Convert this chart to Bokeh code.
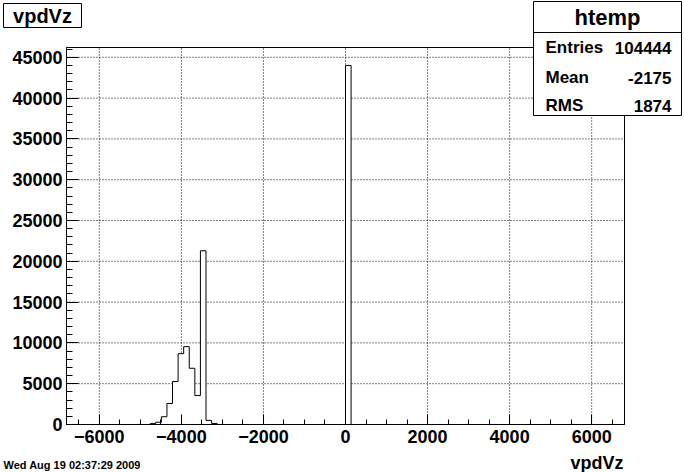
from bokeh.plotting import figure
from bokeh.models import Range1d, SingleIntervalTicker, Label, BoxAnnotation
from bokeh.embed import file_html
from bokeh.resources import INLINE
import numpy as np

# ---- data ----
x_min, x_max, n_bins = -6800, 6800, 100
bin_index = [15, 16, 17, 18, 19, 20, 21, 22, 23, 24, 25, 26, 50]
bin_count = [110, 280, 950, 2580, 5270, 8680, 9540, 6890, 3550, 21290, 500, 130, 44000]
y_max = 46200
x_tick_step = 2000
y_tick_step = 5000
title_text = "vpdVz"
x_title = "vpdVz"
stats_name = "htemp"
stats_labels = ["Entries", "Mean", "RMS"]
stats_values = ["104444", "-2175", "1874"]
date_text = "Wed Aug 19 02:37:29 2009"

FONT = "Liberation Sans"

# ---- layout: pixel geometry of the canvas ----
W, H = 684, 472
FL, FR, FT, FB = 66, 624, 47, 424   # histogram frame in canvas pixels

kx = (FR - FL) / (x_max - x_min)
ky = (FB - FT) / y_max
xr = Range1d(x_min - FL / kx, x_max + (W - FR) / kx)
yr = Range1d(-(H - FB) / ky, y_max + FT / ky)

p = figure(width=W, height=H, output_backend="svg", toolbar_location=None,
           x_range=xr, y_range=yr, min_border=0,
           background_fill_color="white", border_fill_color="white")
p.outline_line_color = None
p.xgrid.visible = False
p.ygrid.visible = False


def fx(X):
    return X


def fy(Y):
    return H - Y


# dotted grid at major ticks (inside the histogram frame only)
gx = np.arange(-6000, 6001, x_tick_step)
gy = np.arange(y_tick_step, y_max, y_tick_step)
p.segment(x0=gx, x1=gx, y0=[0] * len(gx), y1=[y_max] * len(gx),
          line_color="black", line_dash="1 2", line_width=1)
p.segment(x0=[x_min] * len(gy), x1=[x_max] * len(gy), y0=gy, y1=gy,
          line_color="black", line_dash="1 2", line_width=1)

# histogram
edges = np.linspace(x_min, x_max, n_bins + 1)
counts = np.zeros(n_bins)
for i, c in zip(bin_index, bin_count):
    counts[i] = c
xs = [edges[0]]
ys = [0]
for i in range(n_bins):
    xs += [edges[i], edges[i + 1]]
    ys += [counts[i], counts[i]]
xs.append(edges[-1])
ys.append(0)
p.varea(x=xs, y1=[0] * len(xs), y2=ys, fill_color="white")
p.line(x=xs, y=ys, line_color="black", line_width=1)

# frame outline
p.quad(left=[x_min], right=[x_max], bottom=[0], top=[y_max],
       fill_color=None, line_color="black", line_width=1)

# axes drawn at the frame edges
p.xaxis.fixed_location = 0
p.yaxis.fixed_location = x_min
p.xaxis.bounds = (x_min, x_max)
p.yaxis.bounds = (0, y_max)
p.xaxis.ticker = SingleIntervalTicker(interval=x_tick_step, num_minor_ticks=4)
p.yaxis.ticker = SingleIntervalTicker(interval=y_tick_step, num_minor_ticks=5)
for ax in (p.xaxis[0], p.yaxis[0]):
    ax.axis_line_color = "black"
    ax.major_tick_line_color = "black"
    ax.minor_tick_line_color = "black"
    ax.major_tick_out = 0
    ax.minor_tick_out = 0
    ax.major_label_text_font = FONT
    ax.major_label_text_font_style = "bold"
    ax.major_label_text_font_size = "18px"
    ax.major_label_text_color = "black"
p.xaxis.major_tick_in = 10
p.xaxis.minor_tick_in = 5
p.xaxis.major_label_standoff = 5
p.yaxis.major_tick_in = 12
p.yaxis.minor_tick_in = 6
p.yaxis.major_label_standoff = 4


def box(l, t, r, b, **kw):
    return BoxAnnotation(left=fx(l), right=fx(r), top=fy(t), bottom=fy(b),
                         left_units="screen", right_units="screen",
                         top_units="screen", bottom_units="screen",
                         level="overlay", **kw)


def label(X, Y, text, size, align="left"):
    return Label(x=fx(X), y=fy(Y), x_units="screen", y_units="screen",
                 text=text, text_font=FONT, text_font_style="bold",
                 text_font_size=size, text_align=align,
                 text_baseline="middle", text_color="black", level="overlay")


# title box
p.add_layout(box(3, 3, 81, 27, fill_color="white", fill_alpha=1,
                 line_color="black", line_alpha=1, line_width=1))
p.add_layout(label(42, 15.5, title_text, "20px", "center"))

# stats box
p.add_layout(box(533, 1, 681, 115, fill_color="white", fill_alpha=1,
                 line_color="black", line_alpha=1, line_width=1))
p.add_layout(box(533, 32, 681, 32, fill_alpha=0,
                 line_color="black", line_alpha=1, line_width=1))
p.add_layout(label(607, 16.5, stats_name, "22px", "center"))
row_y = [47, 77, 105]
for ly, lab, val in zip(row_y, stats_labels, stats_values):
    p.add_layout(label(545, ly, lab, "17px", "left"))
    p.add_layout(label(671, ly, val, "17px", "right"))

# axis title and date
p.add_layout(label(623, 462, x_title, "18px", "right"))
p.add_layout(label(3, 464, date_text, "11px", "left"))

open("out.html", "w").write(file_html(p, INLINE))
